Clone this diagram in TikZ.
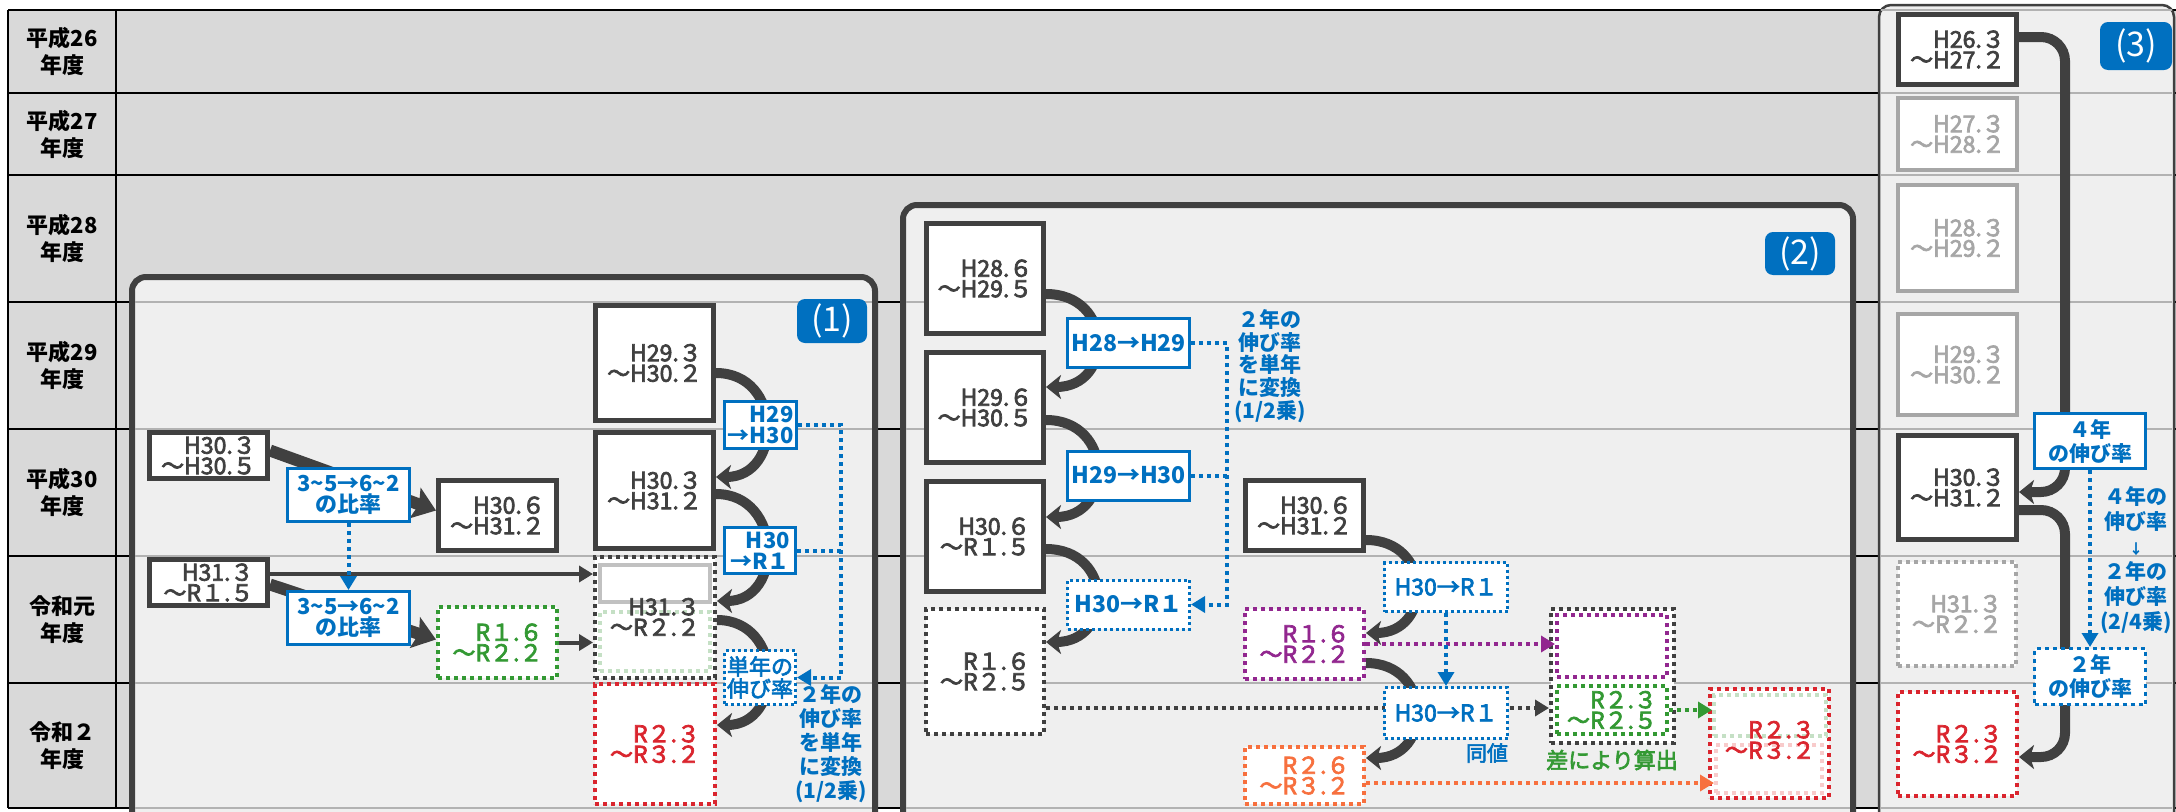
\documentclass[tikz,border=0pt]{standalone}
\usepackage{fontspec}
\setmainfont{Noto Sans CJK JP}
\newfontfamily\medface{Noto Sans CJK JP}[FakeBold=3]
\usepackage{tikz}
\usetikzlibrary{arrows.meta,calc}
\usepackage{xcolor}
\definecolor{boxdark}{RGB}{64,64,64}
\definecolor{bgray}{RGB}{217,217,217}
\definecolor{pgray}{RGB}{239,239,239}
\definecolor{rowline}{RGB}{178,178,178}
\definecolor{mblue}{RGB}{0,112,192}
\definecolor{mgreen}{RGB}{51,153,51}
\definecolor{mred}{RGB}{218,37,46}
\definecolor{mpurple}{RGB}{146,39,143}
\definecolor{morange}{RGB}{247,112,62}
\definecolor{fadegray}{RGB}{166,166,166}
\definecolor{fadegreen}{RGB}{197,224,197}
\definecolor{fadered}{RGB}{248,203,203}
\newcommand{\bxfont}{\fontsize{23}{20.5}\selectfont\medface}
\newcommand{\hdfont}{\fontsize{22}{27}\selectfont\bfseries}
\newcommand{\lbfont}{\fontsize{22}{21}\selectfont\bfseries}
\newcommand{\ntfont}{\fontsize{21}{23}\selectfont\bfseries}
\tikzset{
  solidbox/.style={draw=boxdark,line width=5pt,fill=white,text=boxdark,inner sep=0pt,align=right,font=\bxfont},
  fadebox/.style={solidbox,draw=fadegray,text=fadegray,line width=4pt},
  dotbox/.style={solidbox,line width=4pt,dash pattern=on 4pt off 4pt},
  ratebox/.style={draw=mblue,line width=3pt,fill=white,text=mblue,inner sep=0pt,align=center,font=\lbfont},
  tagbox/.style={fill=mblue,text=white,rounded corners=8pt,inner sep=0pt,font=\fontsize{34}{34}\selectfont},
  memo/.style={text=mblue,align=center,inner sep=0pt,font=\ntfont},
  bigarrow/.style={draw=boxdark,line width=10pt,-{Stealth[length=15pt,width=24pt,inset=4pt]}},
  widearrow/.style={draw=boxdark,line width=12pt,-{Stealth[length=22pt,width=32pt,inset=4pt]}},
  thinarrow/.style={draw=boxdark,line width=4pt,-{Triangle[length=14pt,width=16pt]}},
  dotline/.style={line width=4pt,dash pattern=on 4pt off 4pt},
  dotarrow/.style={dotline,-{Triangle[length=14pt,width=16pt]}},
}
\begin{document}
\begin{tikzpicture}[x=1pt,y=-1pt]
  \useasboundingbox (0,0) rectangle (2176,811);
  \clip (0,0) rectangle (2176,811);
  % Year table
  \fill[bgray] (8,10) rectangle (2176,808);
  \foreach \ry in {10,93,175,302,429,556,683,808}
    \draw[line width=1.5pt] (8,\ry) -- (2176,\ry);
  \draw[line width=1.5pt] (8,10) -- (8,808) (116,10) -- (116,808);
  \foreach \ry/\yr [count=\k] in {51.5/平成26,134/平成27,238.5/平成28,365.5/平成29,492.5/平成30,619.5/令和元,745.5/令和２}
    \node[font=\hdfont,align=center] (yr\k) at (62,\ry) {\yr\\年度};
  % Panels
  \filldraw[fill=pgray,draw=boxdark,line width=6pt,rounded corners=14pt] (132,277) rectangle (875,830);
  \filldraw[fill=pgray,draw=boxdark,line width=6pt,rounded corners=14pt] (903,205) rectangle (1853,830);
  \filldraw[fill=pgray,draw=boxdark,line width=2.5pt,rounded corners=12pt] (1879,5) rectangle (2174,830);
  \foreach \ry in {302,429,556,683,808}{
    \draw[rowline,line width=1.5pt] (135,\ry) -- (872,\ry);
    \draw[rowline,line width=1.5pt] (906,\ry) -- (1850,\ry);
  }
  \foreach \ry in {10,93,175,302,429,556,683,808}
    \draw[rowline,line width=1.5pt] (1881,\ry) -- (2172,\ry);

  % (1)
  \node[solidbox,minimum width=118,minimum height=46] (p1a) at (208.5,455.5) {H30.３\\～H30.５};
  \node[solidbox,minimum width=118,minimum height=70] (p1b) at (497.5,515.5) {H30.６\\～H31.２};
  \node[solidbox,minimum width=118,minimum height=46] (p1c) at (208.5,582.5) {H31.３\\～R１.５};
  \node[dotbox,draw=mgreen,text=mgreen,minimum width=119,minimum height=71] (p1d) at (497.5,642.5) {R１.６\\～R２.２};
  \node[solidbox,minimum width=118,minimum height=115] (p1e) at (654.5,363) {H29.３\\～H30.２};
  \node[solidbox,minimum width=118,minimum height=116] (p1f) at (654.5,490.5) {H30.３\\～H31.２};
  \node[dotbox,minimum width=120,minimum height=121] (p1g) at (655,617.5) {};
  \node[solidbox,draw=fadegray!70,line width=4pt,minimum width=110,minimum height=37] (p1gtop) at (655,583.5) {};
  \node[dotbox,draw=fadegreen,minimum width=110,minimum height=59] (p1gbot) at (655,641.5) {};
  \node[text=boxdark,align=right,inner sep=0pt,font=\bxfont] (p1gtxt) at (655,617) {H31.３\\～R２.２};
  \node[dotbox,draw=mred,text=mred,minimum width=120,minimum height=120] (p1h) at (655,744) {R２.３\\～R３.２};
  \draw[widearrow] ($(p1a.east)+(0,-5)$) -- ($(p1b.west)+(0,-5)$);
  \draw[widearrow] ($(p1c.east)+(0,2)$) -- ($(p1d.west)+(0,-3)$);
  \coordinate (p1cout) at ($(p1c.east)+(0,-8.5)$);
  \draw[thinarrow] (p1cout) -- (p1cout -| p1g.west);
  \draw[thinarrow] (p1d.east) -- (p1d.east -| p1g.west);
  \draw[bigarrow] ($(p1e.east)+(0,10)$) .. controls +(67,0) and +(67,0) .. ($(p1f.east)+(0,-13.5)$);
  \draw[bigarrow] ($(p1f.east)+(0,3.5)$) .. controls +(67,0) and +(67,0) .. ($(p1g.east)+(0,-16.5)$);
  \draw[bigarrow] ($(p1g.east)+(0,2.5)$) .. controls +(67,0) and +(67,0) .. ($(p1h.east)+(0,-19)$);
  \node[ratebox,minimum width=122,minimum height=53] (p1r1) at (348.5,495) {3\textasciitilde5→6\textasciitilde2\\の比率};
  \node[ratebox,minimum width=122,minimum height=53] (p1r2) at (348.5,618) {3\textasciitilde5→6\textasciitilde2\\の比率};
  \draw[mblue,dotarrow] (p1r1.south) -- (p1r2.north);
  \node[ratebox,align=right,minimum width=72,minimum height=47] (p1s1) at (760.5,425) {H29\\→H30};
  \node[ratebox,align=right,minimum width=71,minimum height=46] (p1s2) at (760,550.5) {H30\\→R１};
  \node[ratebox,dash pattern=on 3pt off 3pt,font=\fontsize{22}{22}\selectfont\medface,minimum width=71,minimum height=54] (p1s3) at (760,677.5) {単年の\\伸び率};
  \draw[mblue,dotarrow] (p1s1.east) -| ($(p1s3.east)+(44,0)$) -- (p1s3.east);
  \draw[mblue,dotline] (p1s2.east) -- +(44,0);
  \node[memo,font=\fontsize{21}{24}\selectfont\bfseries] (p1memo) at (831,744) {２年の\\伸び率\\を単年\\に変換\\(1/2乗)};
  \node[tagbox,minimum width=70,minimum height=44] (tag1) at (832,321) {(1)};

  % (2)
  \node[solidbox,minimum width=117,minimum height=110] (p2a) at (985,278.5) {H28.６\\～H29.５};
  \node[solidbox,minimum width=117,minimum height=110] (p2b) at (985,407.5) {H29.６\\～H30.５};
  \node[solidbox,minimum width=117,minimum height=110] (p2c) at (985,536.5) {H30.６\\～R１.５};
  \node[dotbox,minimum width=118,minimum height=125] (p2d) at (985,671.5) {R１.６\\～R２.５};
  \node[solidbox,minimum width=118,minimum height=70] (p2e) at (1304.5,515.5) {H30.６\\～H31.２};
  \node[dotbox,draw=mpurple,text=mpurple,minimum width=119,minimum height=70] (p2f) at (1304.5,644) {R１.６\\～R２.２};
  \node[dotbox,draw=morange,text=morange,minimum width=119,minimum height=57] (p2g) at (1304.5,775.5) {R２.６\\～R３.２};
  \node[dotbox,minimum width=123,minimum height=134] (p2big) at (1612.5,676) {};
  \node[dotbox,draw=mpurple,minimum width=110,minimum height=62] (p2bigp) at (1612,646) {};
  \node[dotbox,draw=mgreen,text=mgreen,minimum width=110,minimum height=48] (p2bigg) at (1612,710) {R２.３\\～R２.５};
  \node[dotbox,draw=mred,minimum width=119,minimum height=109] (p2red) at (1769.5,743.5) {};
  \node[dotbox,draw=fadegreen,minimum width=112,minimum height=41] (p2redg) at (1770,715.5) {};
  \node[dotbox,draw=fadered,minimum width=106,minimum height=48] (p2redr) at (1769,769) {};
  \node[text=mred,align=right,inner sep=0pt,font=\bxfont] (p2redt) at (1770,740) {R２.３\\～R３.２};
  \draw[bigarrow] ($(p2a.east)+(0,15.5)$) .. controls +(68,0) and +(68,0) .. ($(p2b.east)+(0,-20.5)$);
  \draw[bigarrow] ($(p2b.east)+(0,12.5)$) .. controls +(68,0) and +(68,0) .. ($(p2c.east)+(0,-19.5)$);
  \draw[bigarrow] ($(p2c.east)+(0,12.5)$) .. controls +(68,0) and +(68,0) .. ($(p2d.east)+(0,-29.5)$);
  \draw[bigarrow] ($(p2e.east)+(0,24.5)$) .. controls +(67,0) and +(67,0) .. ($(p2f.east)+(0,-11)$);
  \draw[bigarrow] ($(p2f.east)+(0,19)$) .. controls +(67,0) and +(67,0) .. ($(p2g.east)+(0,-17.5)$);
  \coordinate (p2dout) at ($(p2d.east)+(0,36.5)$);
  \draw[boxdark,dotarrow] (p2dout) -- (p2dout -| p2big.west);
  \draw[mpurple,dotarrow] (p2f.east) -- (p2f.east -| p2bigp.west);
  \draw[mgreen,dotarrow] (p2bigg.east) -- (p2bigg.east -| p2redg.west);
  \coordinate (p2gout) at ($(p2g.east)+(0,7.5)$);
  \draw[morange,dotarrow] (p2gout) -- (p2gout -| p2redr.west);
  \node[ratebox,minimum width=122,minimum height=49,font=\fontsize{23}{23}\selectfont\bfseries] (p2s1) at (1128.5,343) {H28→H29};
  \node[ratebox,minimum width=122,minimum height=49,font=\fontsize{23}{23}\selectfont\bfseries] (p2s2) at (1128.5,475.5) {H29→H30};
  \node[ratebox,dash pattern=on 3pt off 3pt,minimum width=122,minimum height=49,font=\fontsize{23}{23}\selectfont\bfseries] (p2s3) at (1128.5,604.5) {H30→R１};
  \draw[mblue,dotarrow] (p2s1.east) -| ($(p2s3.east)+(36,0)$) -- (p2s3.east);
  \draw[mblue,dotline] (p2s2.east) -- +(36,0);
  \node[memo,font=\fontsize{21}{22.6}\selectfont\bfseries] (p2memo) at (1270,366) {２年の\\伸び率\\を単年\\に変換\\(1/2乗)};
  \node[ratebox,dash pattern=on 3pt off 3pt,minimum width=123,minimum height=49,font=\fontsize{23}{23}\selectfont\medface] (p2t1) at (1446,587) {H30→R１};
  \node[ratebox,dash pattern=on 3pt off 3pt,minimum width=123,minimum height=51,font=\fontsize{23}{23}\selectfont\medface] (p2t2) at (1446,713) {H30→R１};
  \draw[mblue,dotarrow] (p2t1.south) -- (p2t2.north);
  \node[text=mblue,inner sep=0pt,font=\fontsize{21}{21}\selectfont\medface] (p2same) at (1487,753) {同値};
  \node[text=mgreen,inner sep=0pt,font=\fontsize{22}{22}\selectfont\medface] (p2diff) at (1612,760) {差により算出};
  \node[tagbox,minimum width=70,minimum height=43] (tag2) at (1800,253.5) {(2)};

  % (3)
  \node[solidbox,minimum width=118,minimum height=70] (p3a) at (1957.5,49.5) {H26.３\\～H27.２};
  \node[fadebox,minimum width=119,minimum height=72] (p3b) at (1957.5,134) {H27.３\\～H28.２};
  \node[fadebox,minimum width=119,minimum height=106] (p3c) at (1957.5,238) {H28.３\\～H29.２};
  \node[fadebox,minimum width=119,minimum height=101] (p3d) at (1957.5,364.5) {H29.３\\～H30.２};
  \node[solidbox,minimum width=118,minimum height=104] (p3e) at (1957.5,487.5) {H30.３\\～H31.２};
  \node[dotbox,draw=fadegray,text=fadegray,minimum width=118,minimum height=104] (p3f) at (1957,614) {H31.３\\～R２.２};
  \node[dotbox,draw=mred,text=mred,minimum width=119,minimum height=104] (p3g) at (1957.5,744) {R２.３\\～R３.２};
  \draw[bigarrow,rounded corners=24pt] ($(p3a.east)+(0,-12.5)$) -- ++(46,0) |- ($(p3e.east)+(0,4.5)$);
  \draw[bigarrow,rounded corners=24pt] ($(p3e.east)+(0,22.5)$) -- ++(46,0) |- ($(p3g.east)+(0,13)$);
  \node[ratebox,font=\fontsize{21}{24}\selectfont\bfseries,minimum width=111,minimum height=55] (p3s1) at (2090,441) {４年\\の伸び率};
  \node[ratebox,dash pattern=on 4pt off 4pt,font=\fontsize{21}{24}\selectfont\bfseries,minimum width=111,minimum height=56] (p3s2) at (2090,676.5) {２年\\の伸び率};
  \draw[mblue,dotarrow] (p3s1.south) -- (p3s2.north);
  \node[memo,font=\fontsize{21}{25}\selectfont\bfseries] (p3memo) at (2136,560) {４年の\\伸び率\\{\fontsize{14}{14}\selectfont ↓}\\２年の\\伸び率\\(2/4乗)};
  \node[tagbox,minimum width=72,minimum height=48] (tag3) at (2136,46) {(3)};
\end{tikzpicture}
\end{document}
